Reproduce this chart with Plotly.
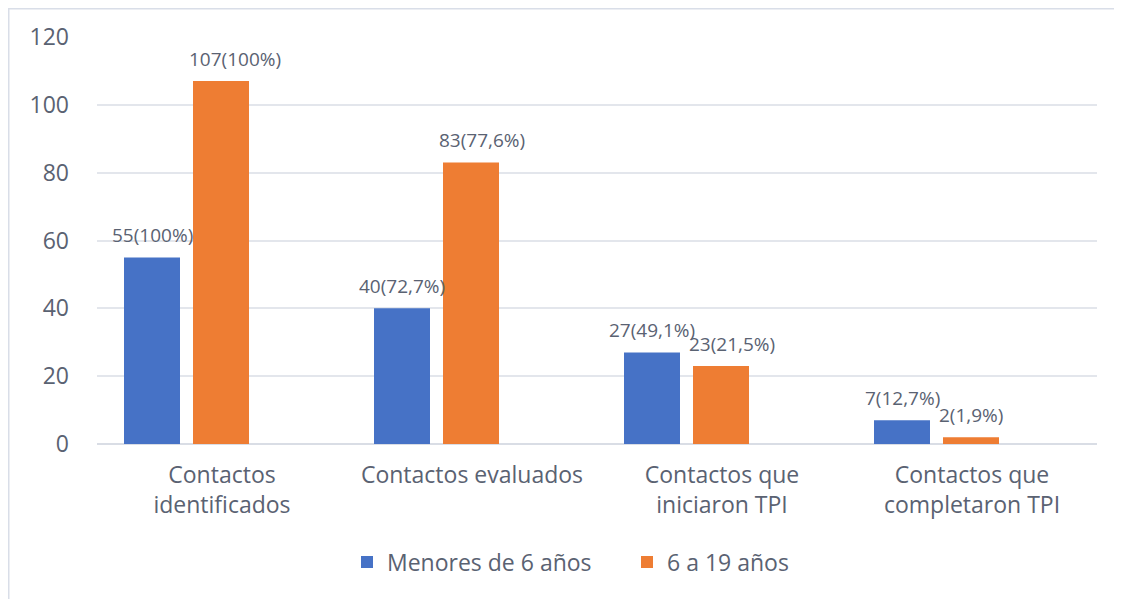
import plotly.graph_objects as go

categories = ["Contactos<br>identificados", "Contactos evaluados",
              "Contactos que<br>iniciaron TPI", "Contactos que<br>completaron TPI"]
menores = [55, 40, 27, 7]
menores_labels = ["55(100%)", "40(72,7%)", "27(49,1%)", "7(12,7%)"]
mayores = [107, 83, 23, 2]
mayores_labels = ["107(100%)", "83(77,6%)", "23(21,5%)", "2(1,9%)"]
y_ticks = [0, 20, 40, 60, 80, 100, 120]

BLUE = "#4672C6"
ORANGE = "#EE7D33"
TXT = "#5A6272"
FONT = "Open Sans"

# page offset of the figure (body margin)
OFF = 8
W, H = 1122 - OFF, 599 - OFF
ML, MR, MT, MB = 97 - OFF, 25, 37 - OFF, 155
PW = W - ML - MR
PH = H - MT - MB

bar_w = 0.224
off_blue = -0.392
off_orange = -0.116

fig = go.Figure()
fig.add_trace(go.Bar(x=categories, y=menores, name="Menores de 6 años",
                     marker=dict(color=BLUE, line=dict(width=0)),
                     width=bar_w, offset=off_blue))
fig.add_trace(go.Bar(x=categories, y=mayores, name="6 a 19 años",
                     marker=dict(color=ORANGE, line=dict(width=0)),
                     width=bar_w, offset=off_orange))

annotations = []
for cat, v, lab in zip(categories, menores, menores_labels):
    annotations.append(dict(x=cat, y=v, text=lab, showarrow=False, xref="x", yref="y",
                            xshift=(off_blue + bar_w / 2) * (PW / 4), yshift=22,
                            xanchor="center", yanchor="middle",
                            font=dict(size=19, color=TXT, family=FONT)))
for cat, v, lab in zip(categories, mayores, mayores_labels):
    annotations.append(dict(x=cat, y=v, text=lab, showarrow=False, xref="x", yref="y",
                            xshift=off_orange * (PW / 4) - 6, yshift=22,
                            xanchor="left", yanchor="middle",
                            font=dict(size=19, color=TXT, family=FONT)))

border_x = (0 - ML) / PW
border_top = (H - MB) / PH
shapes = [
    dict(type="line", xref="paper", yref="paper",
         x0=border_x, x1=(W - ML) / PW,
         y0=border_top, y1=border_top,
         line=dict(color="#D9DEE8", width=3)),
    dict(type="line", xref="paper", yref="paper",
         x0=border_x, x1=border_x,
         y0=border_top, y1=(-MB) / PH,
         line=dict(color="#D9DEE8", width=3)),
]

fig.update_layout(
    width=W, height=H,
    margin=dict(l=ML, r=MR, t=MT, b=MB, pad=0),
    paper_bgcolor="white", plot_bgcolor="white",
    font=dict(family=FONT, color=TXT, size=23),
    barmode="overlay",
    showlegend=True,
    legend=dict(orientation="h", x=(347 - 97) / PW, xanchor="left",
                y=(444 - 562) / PH, yanchor="middle",
                font=dict(size=23, color=TXT, family=FONT),
                itemwidth=30, entrywidth=235, entrywidthmode="pixels",
                traceorder="normal"),
    annotations=annotations,
    shapes=shapes,
    xaxis=dict(showgrid=False, showline=False, ticks="", ticklabelstandoff=15,
               tickfont=dict(size=23, color=TXT)),
    yaxis=dict(range=[0, 120], tickvals=y_ticks, showgrid=True, gridcolor="#E3E6EC",
               gridwidth=1.5, zeroline=True, zerolinecolor="#D9DDE5", zerolinewidth=1.5,
               ticks="", ticklabelstandoff=27, tickfont=dict(size=23, color=TXT)),
)

fig.write_html("out.html")
